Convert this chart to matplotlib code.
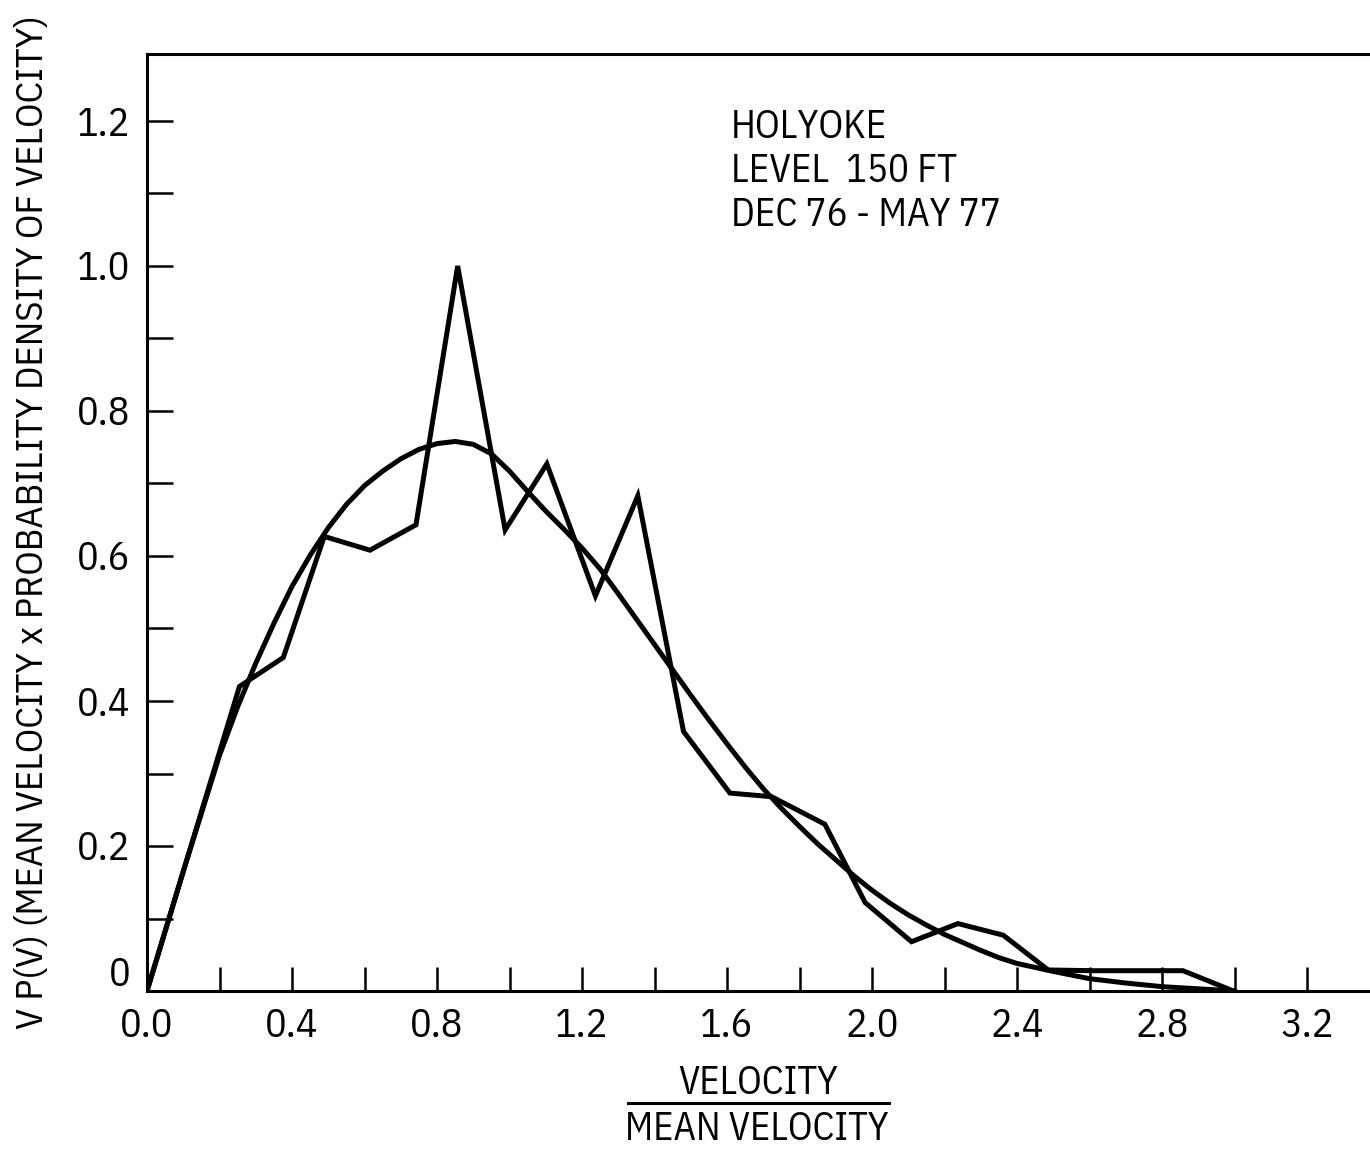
import numpy as np
import matplotlib
matplotlib.use("Agg")
import matplotlib.pyplot as plt
from matplotlib.lines import Line2D
from matplotlib.ticker import FixedLocator, FixedFormatter
from matplotlib.transforms import ScaledTranslation

plt.rcParams['font.family'] = ['IBM Plex Sans Condensed', 'DejaVu Sans']

# measured distribution (velocity / mean velocity, V P(V))
meas_x = [0.0, 0.255, 0.376, 0.489, 0.615, 0.742, 0.857, 0.988, 1.103, 1.237,
          1.354, 1.480, 1.608, 1.723, 1.870, 1.981, 2.109, 2.237, 2.362, 2.486,
          2.610, 2.735, 2.858, 2.997]
meas_y = [0.0, 0.420, 0.460, 0.627, 0.608, 0.643, 1.000, 0.636, 0.727, 0.545,
          0.683, 0.358, 0.273, 0.268, 0.230, 0.122, 0.068, 0.093, 0.077, 0.029,
          0.028, 0.028, 0.028, 0.0]

# fitted smooth curve
fit_x = [0.0, 0.1, 0.2, 0.25, 0.3, 0.35, 0.4, 0.45, 0.5, 0.55, 0.6, 0.65,
         0.7, 0.75, 0.8, 0.85, 0.9, 0.95, 1.0, 1.05, 1.1, 1.15, 1.2, 1.25,
         1.3, 1.35, 1.4, 1.45, 1.5, 1.55, 1.6, 1.65, 1.7, 1.75, 1.8, 1.85,
         1.9, 1.95, 2.0, 2.05, 2.1, 2.15, 2.2, 2.25, 2.3, 2.35, 2.4, 2.5,
         2.6, 2.7, 2.8, 2.9, 3.0]
fit_y = [0.0, 0.165, 0.325, 0.392, 0.452, 0.507, 0.558, 0.601, 0.639, 0.671,
         0.697, 0.717, 0.734, 0.747, 0.755, 0.758, 0.754, 0.741, 0.717, 0.689,
         0.662, 0.637, 0.611, 0.582, 0.548, 0.513, 0.478, 0.443, 0.408, 0.374,
         0.341, 0.309, 0.279, 0.252, 0.227, 0.203, 0.181, 0.159, 0.139, 0.121,
         0.105, 0.091, 0.078, 0.067, 0.056, 0.046, 0.038, 0.027, 0.017, 0.011,
         0.006, 0.003, 0.0]

xtick_vals = [0.0, 0.4, 0.8, 1.2, 1.6, 2.0, 2.4, 2.8, 3.2]
xtick_text = ["0.0", "0.4", "0.8", "1.2", "1.6", "2.0", "2.4", "2.8", "3.2"]
ytick_vals = [0.0, 0.2, 0.4, 0.6, 0.8, 1.0, 1.2]
ytick_text = ["0", "0.2", "0.4", "0.6", "0.8", "1.0", "1.2"]

note_lines = ["HOLYOKE", "LEVEL  150 FT", "DEC 76 - MAY 77"]
ylab = "V P(V) (MEAN VELOCITY x PROBABILITY DENSITY OF VELOCITY)"

W, H = 1370, 1151
fig = plt.figure(figsize=(W / 100, H / 100), dpi=100)
ax = fig.add_axes([147 / W, 160 / H, 1 - 147 / W, 937 / H])

ax.plot(fit_x, fit_y, color='black', lw=3.6, solid_joinstyle='round')
ax.plot(meas_x, meas_y, color='black', lw=3.6, solid_joinstyle='miter')

ax.set_xlim(0, (W - 147) / 362.5)
ax.set_ylim(0, 937 / 725)

for s in ['left', 'bottom', 'top']:
    ax.spines[s].set_linewidth(2.2)
ax.spines['right'].set_visible(False)

ax.xaxis.set_major_locator(FixedLocator(xtick_vals))
ax.xaxis.set_major_formatter(FixedFormatter(xtick_text))
ax.xaxis.set_minor_locator(FixedLocator(np.arange(0.2, 3.4, 0.4)))
ax.yaxis.set_major_locator(FixedLocator(ytick_vals))
ax.yaxis.set_major_formatter(FixedFormatter(ytick_text))
ax.yaxis.set_minor_locator(FixedLocator(np.arange(0.1, 1.3, 0.2)))

ax.tick_params(axis='x', which='both', direction='in', length=17, width=1.8,
               labelsize=29, pad=12)
ax.tick_params(axis='y', which='both', direction='in', length=19, width=1.8,
               labelsize=29, pad=12)

notes = [fig.text(731 / W, 1 - (127 + 44 * i) / H, line, fontsize=26,
                  ha='left', va='center') for i, line in enumerate(note_lines)]

yl = fig.text(33 / W, 1 - 522 / H, ylab, fontsize=30, rotation=90,
              ha='center', va='center')

xl_top = fig.text(758 / W, 1 - 1083 / H, "VELOCITY", fontsize=27,
                  ha='center', va='center')
xl_bot = fig.text(757 / W, 1 - 1129 / H, "MEAN VELOCITY", fontsize=27,
                  ha='center', va='center')
fig.add_artist(Line2D([628 / W, 889 / W], [1 - 1103 / H, 1 - 1103 / H],
                      color='black', lw=2.2))

# size the free texts to their lengths on the sheet
fig.canvas.draw()
r = fig.canvas.get_renderer()

def fit(txt, target, vertical=False):
    bb = txt.get_window_extent(r)
    cur = bb.height if vertical else bb.width
    return txt.get_fontsize() * target / cur

yl.set_fontsize(fit(yl, 1015, vertical=True))
s = fit(notes[2], 270)
for t in notes:
    t.set_fontsize(s)
s = fit(xl_bot, 264)
xl_top.set_fontsize(s)
xl_bot.set_fontsize(s)

# lift the zero label off the corner
lbl0 = ax.get_yticklabels()[0]
lbl0.set_transform(lbl0.get_transform() + ScaledTranslation(0, 0.2, fig.dpi_scale_trans))

fig.savefig("out.png", dpi=100)
